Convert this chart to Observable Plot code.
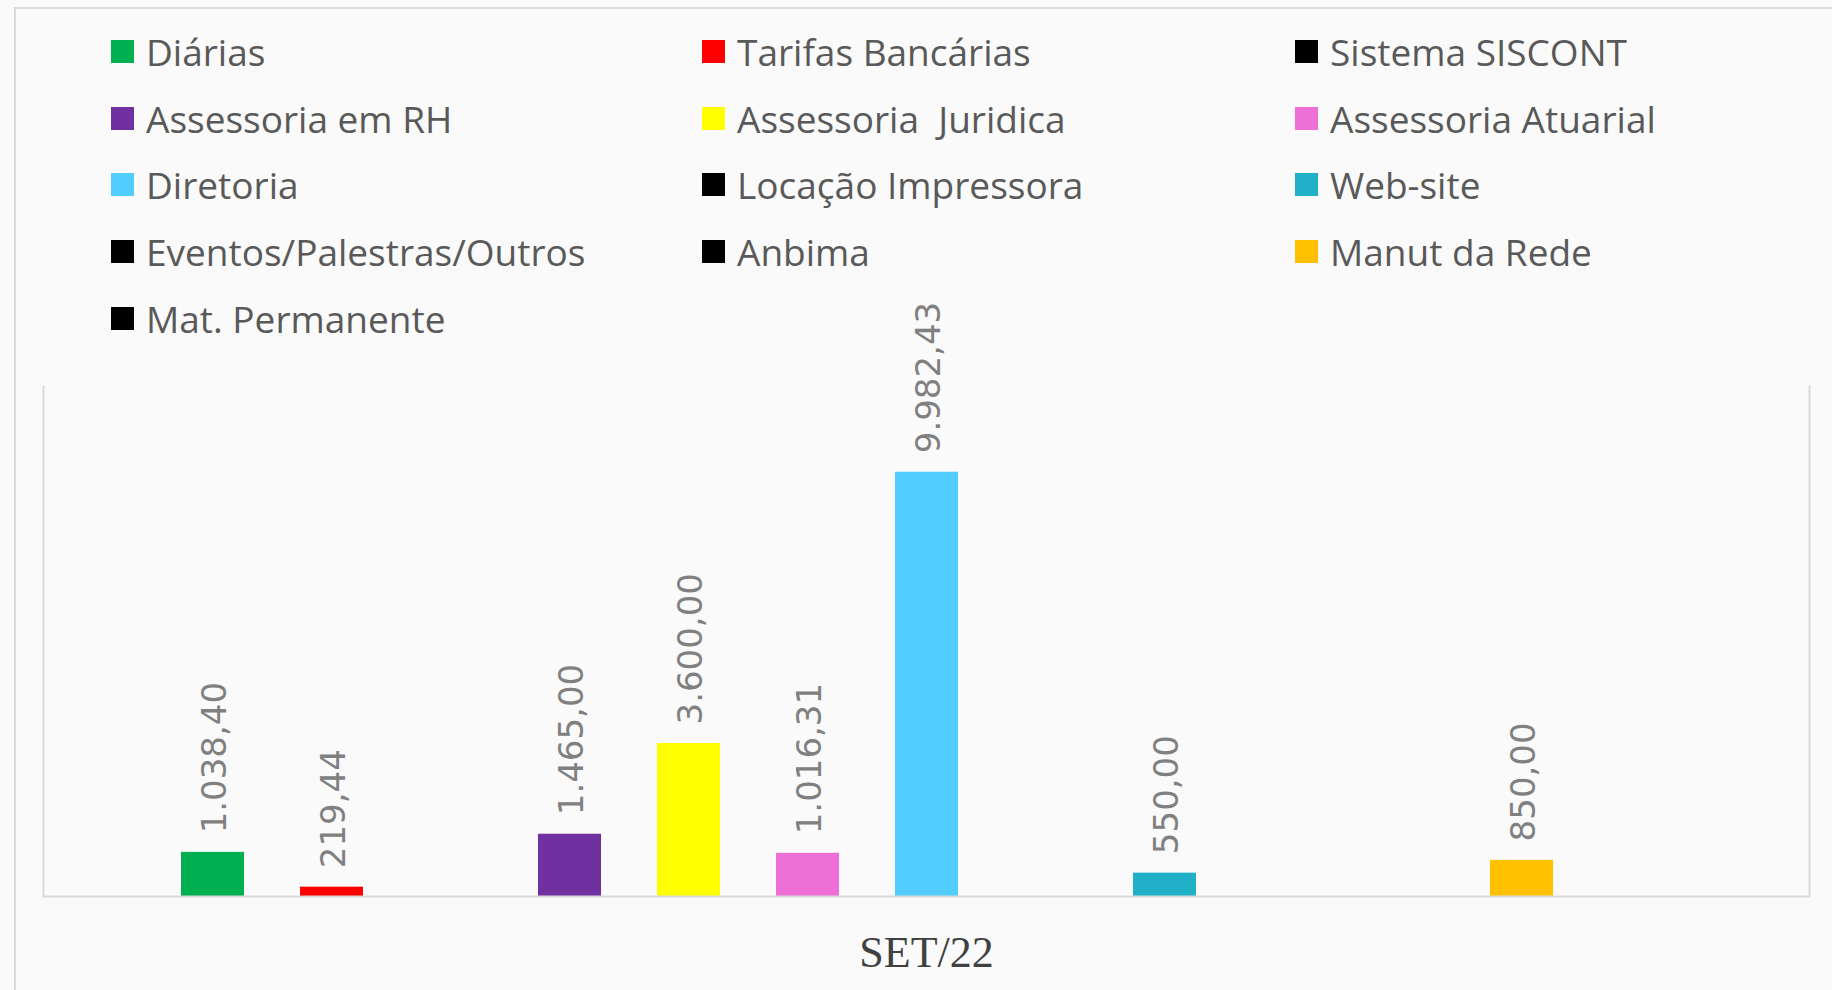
<!DOCTYPE html>
<html>
<head>
<meta charset="utf-8">
<script src="https://cdn.jsdelivr.net/npm/d3@7"></script>
<script src="https://cdn.jsdelivr.net/npm/@observablehq/plot@0.6"></script>
<style>
  html, body { margin: 0; padding: 0; background: #fafafa; }
  #page { position: relative; width: 1832px; height: 990px; overflow: hidden; background: #fafafa; }
  #border { position: absolute; left: 14px; top: 7px; width: 1900px; height: 1100px; border: 2px solid #dcdcdc; box-sizing: border-box; }
  #legend { position: absolute; left: 111px; top: 18px; display: grid; grid-template-columns: 591px 593px 400px; grid-auto-rows: 66.7px; font-family: "Open Sans", sans-serif; font-size: 37px; color: #595959; }
  .item { display: flex; align-items: center; white-space: pre; }
  .sw { width: 23px; height: 23px; margin-right: 12px; flex: none; }
  #chart { position: absolute; left: 0; top: 290px; }
</style>
</head>
<body>
<div id="page">
  <div id="border"></div>
  <div id="legend"></div>
  <div id="chart"></div>
</div>
<script>
const categories = ["Diárias", "Tarifas Bancárias", "Sistema SISCONT", "Assessoria em RH", "Assessoria  Juridica", "Assessoria Atuarial", "Diretoria", "Locação Impressora", "Web-site", "Eventos/Palestras/Outros", "Anbima", "Manut da Rede", "Mat. Permanente"];
const values = [1038.40, 219.44, 0, 1465.00, 3600.00, 1016.31, 9982.43, 0, 550.00, 0, 0, 850.00, 0];
const colors = ["#00b050", "#ff0000", "#000000", "#7030a0", "#ffff00", "#ee6fd6", "#52cefe", "#000000", "#20b1c9", "#000000", "#000000", "#ffc000", "#000000"];
const periodLabel = "SET/22";

function fmtBR(v) {
  const [i, d] = v.toFixed(2).split(".");
  return i.replace(/\B(?=(\d{3})+(?!\d))/g, ".") + "," + d;
}

const data = categories.map((c, i) => ({category: c, value: values[i], color: colors[i]}));

// legend
const legend = document.getElementById("legend");
data.forEach(d => {
  const it = document.createElement("div");
  it.className = "item";
  const sw = document.createElement("span");
  sw.className = "sw";
  sw.style.background = d.color;
  const t = document.createElement("span");
  t.textContent = d.category;
  it.appendChild(sw); it.appendChild(t);
  legend.appendChild(it);
});

const chart = Plot.plot({
  width: 1832,
  height: 700,
  marginLeft: 43,
  marginRight: 23,
  marginTop: 96,
  marginBottom: 94,
  style: {background: "transparent", overflow: "visible"},
  x: {domain: categories, paddingInner: 0.47, paddingOuter: 0.235, insetLeft: 108, insetRight: 107, axis: null},
  y: {domain: [0, 12000], axis: null},
  marks: [
    Plot.frame({anchor: "left", stroke: "#d9d9d9", strokeWidth: 2}),
    Plot.frame({anchor: "right", stroke: "#d9d9d9", strokeWidth: 2}),
    Plot.barY(data, {x: "category", y: "value", fill: "color"}),
    Plot.ruleY([0], {stroke: "#d9d9d9", strokeWidth: 2}),
    Plot.text(data.filter(d => d.value > 0), {
      x: "category", y: "value", text: d => fmtBR(d.value),
      rotate: -90, textAnchor: "start", lineAnchor: "middle", dy: -19, dx: 2,
      fontSize: 34, fill: "#808080", fontFamily: "DejaVu Sans"
    }),
    Plot.text([periodLabel], {
      frameAnchor: "bottom", dy: 70, text: d => d,
      fontSize: 44, fill: "#404040", fontFamily: "Liberation Serif", letterSpacing: 3
    })
  ]
});
document.getElementById("chart").appendChild(chart);
</script>
</body>
</html>
